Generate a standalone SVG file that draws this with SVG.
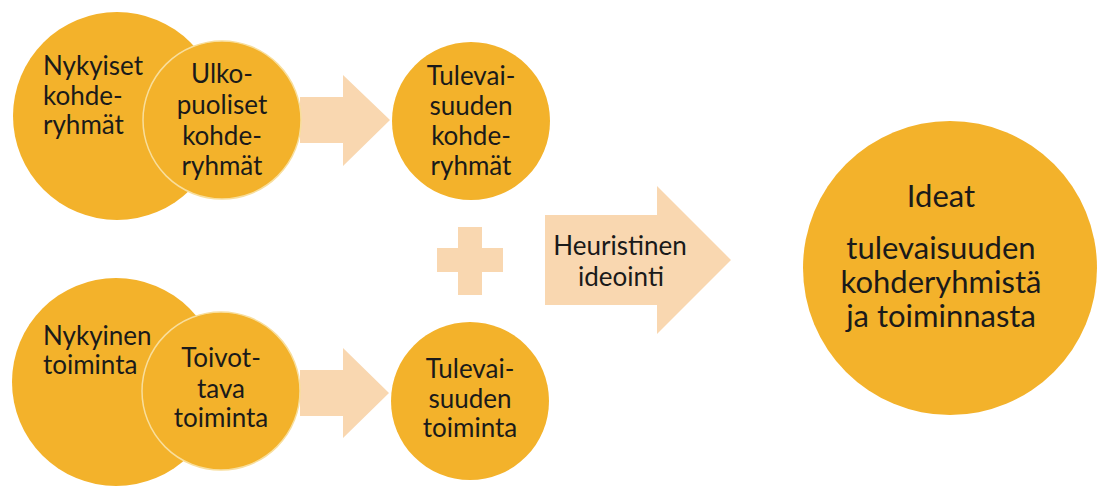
<svg xmlns="http://www.w3.org/2000/svg" width="1099" height="486" viewBox="0 0 1099 486">
<style>
.c{fill:#F3B22B}
.cs{fill:#F3B22B;stroke:#F8DE9C;stroke-width:1.5}
.a{fill:#F9D7B0}
text{font-family:Lato,"Liberation Sans",sans-serif;font-size:26px;fill:#1a1a1a}
.m{text-anchor:middle}
.big{font-size:31px}
</style>
<rect width="1099" height="486" fill="#ffffff"/>
<g id="connectors">
<path class="a" d="M300,97 H343 V75 L390,120 L343,166 V143 H300 Z"/>
<path class="a" d="M300,370 H343 V348 L389,393 L343,438 V416 H300 Z"/>
<path class="a" d="M545,215 H657 V186 L731,260 L657,334 V305 H545 Z"/>
<path class="a" d="M458,227 H482 V248 H503 V272 H482 V295 H458 V272 H437 V248 H458 Z"/>
</g>
<g id="nykyiset">
<circle class="c" cx="117" cy="116" r="104"/>
<text x="43" y="75">Nykyiset</text>
<text x="43" y="105">kohde-</text>
<text x="43" y="134">ryhmät</text>
</g>
<g id="ulkopuoliset">
<circle class="cs" cx="222" cy="120" r="79"/>
<text class="m" x="222" y="83">Ulko-</text>
<text class="m" x="222" y="114">puoliset</text>
<text class="m" x="222" y="145">kohde-</text>
<text class="m" x="222" y="175">ryhmät</text>
</g>
<g id="tulevat-kohderyhmat">
<circle class="c" cx="471" cy="121" r="79"/>
<text class="m" x="471" y="85">Tulevai-</text>
<text class="m" x="471" y="115">suuden</text>
<text class="m" x="471" y="145">kohde-</text>
<text class="m" x="471" y="175">ryhmät</text>
</g>
<g id="nykyinen">
<circle class="c" cx="116" cy="382" r="104"/>
<text x="43" y="345">Nykyinen</text>
<text x="43" y="374">toiminta</text>
</g>
<g id="toivottava">
<circle class="cs" cx="221" cy="391" r="79"/>
<text class="m" x="221" y="367">Toivot-</text>
<text class="m" x="221" y="398">tava</text>
<text class="m" x="221" y="427">toiminta</text>
</g>
<g id="tuleva-toiminta">
<circle class="c" cx="470" cy="401" r="79"/>
<text class="m" x="470" y="378">Tulevai-</text>
<text class="m" x="470" y="408">suuden</text>
<text class="m" x="470" y="437">toiminta</text>
</g>
<g id="heuristinen">
<text class="m" x="620" y="255">Heuristinen</text>
<text class="m" x="621" y="286">ideointi</text>
</g>
<g id="ideat">
<circle class="c" cx="950" cy="268" r="147"/>
<text class="m big" x="941" y="207">Ideat</text>
<text class="m big" x="941" y="259">tulevaisuuden</text>
<text class="m big" x="941" y="293">kohderyhmistä</text>
<text class="m big" x="941" y="327">ja toiminnasta</text>
</g>
</svg>
